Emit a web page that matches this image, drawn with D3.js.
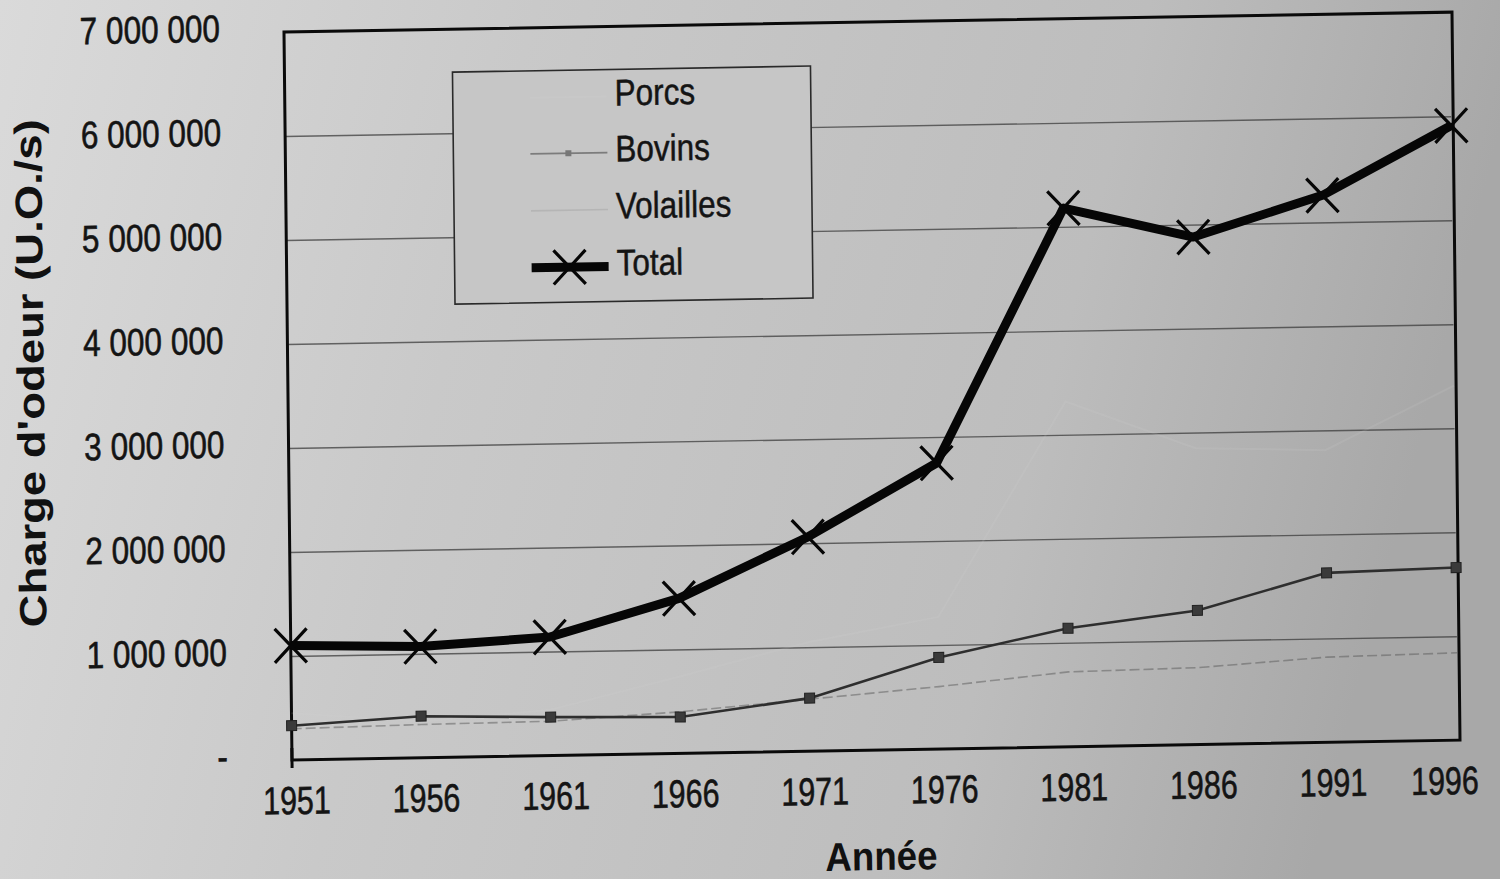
<!DOCTYPE html>
<html><head><meta charset="utf-8">
<script src="https://cdn.jsdelivr.net/npm/d3@7"></script>
<style>body{margin:0;background:#c8c8c8;overflow:hidden} svg{display:block}</style>
</head><body>
<svg id="chart" width="1500" height="879"></svg>
<script>
// ---- data ----
const years = [1951, 1956, 1961, 1966, 1971, 1976, 1981, 1986, 1991, 1996];
const porcs = [450000, 350000, 440000, 740000, 1050000, 1270000, 3320000, 2850000, 2810000, 3410000];
const bovins = [330000, 400000, 370000, 350000, 510000, 880000, 1140000, 1290000, 1630000, 1660000];
const volailles = [300000, 320000, 330000, 400000, 500000, 600000, 720000, 740000, 820000, 840000];
const total = [1100000, 1070000, 1140000, 1490000, 2060000, 2750000, 5180000, 4880000, 5260000, 5910000];
const seriesNames = ["Porcs", "Bovins", "Volailles", "Total"];
const yTickValues = [0, 1000000, 2000000, 3000000, 4000000, 5000000, 6000000, 7000000];
const yTickLabels = ["-", "1 000 000", "2 000 000", "3 000 000", "4 000 000", "5 000 000", "6 000 000", "7 000 000"];
const xTitle = "Année";
const yTitle = "Charge d'odeur (U.O./s)";

const FONT = "'Liberation Sans', Arial, Helvetica, sans-serif";
const svg = d3.select("#chart");
const W = 1166, H = 728;

// background (scanned grey page)
const defs = svg.append("defs");
const grad = defs.append("linearGradient").attr("id", "bg").attr("x1", "0").attr("x2", "1").attr("y1", "0").attr("y2", "0.15");
grad.append("stop").attr("offset", "0%").attr("stop-color", "#dadada");
grad.append("stop").attr("offset", "35%").attr("stop-color", "#c9c9c9");
grad.append("stop").attr("offset", "75%").attr("stop-color", "#bdbdbd");
grad.append("stop").attr("offset", "100%").attr("stop-color", "#a8a8a8");
svg.append("rect").attr("width", 1500).attr("height", 879).attr("fill", "url(#bg)");

// whole chart slightly skewed like the scan
const g = svg.append("g").attr("transform", "translate(292,760) matrix(1,-0.017,0.011,1,0,0)");

const x = d3.scaleLinear().domain([1951, 1996]).range([0, W]);
const y = d3.scaleLinear().domain([0, 7000000]).range([0, -H]);

// gridlines
const grid = g.append("g").call(d3.axisLeft(y).tickValues(yTickValues.slice(1, -1)).tickSize(-W).tickFormat(""));
grid.select(".domain").remove();
grid.selectAll("line").attr("stroke", "#3c3c3c").attr("stroke-width", 1.4).attr("opacity", 0.75);

// y axis labels
const yAx = g.append("g").attr("transform", "translate(-64,0)")
  .call(d3.axisLeft(y).tickValues(yTickValues).tickSize(0).tickPadding(0).tickFormat((d, i) => yTickLabels[i]));
yAx.select(".domain").remove();
yAx.selectAll("text").attr("font-family", FONT).attr("font-size", 38).attr("fill", "#141414")
  .attr("stroke", "#141414").attr("stroke-width", 0.6)
  .attr("dy", "0.32em").attr("y", -4).attr("data-sq", 0.83);

// x axis labels
const xAx = g.append("g").call(d3.axisBottom(x).tickValues(years).tickSize(0).tickFormat(d3.format("d")));
xAx.select(".domain").remove();
xAx.selectAll("text").attr("font-family", FONT).attr("font-size", 39).attr("fill", "#141414")
  .attr("stroke", "#141414").attr("stroke-width", 0.6)
  .attr("dy", 0).attr("y", 54).attr("x", (d) => d === 1996 ? -14 : 4).attr("data-sq", 0.78);

// plot border
g.append("rect").attr("x", 0).attr("y", -H).attr("width", W + 2).attr("height", H)
  .attr("fill", "none").attr("stroke", "#0a0a0a").attr("stroke-width", 3);
g.append("line").attr("x1", 0).attr("x2", 0).attr("y1", -12).attr("y2", 8).attr("stroke", "#0a0a0a").attr("stroke-width", 3);

// series
const line = d3.line().x((d, i) => x(years[i])).y(d => y(d));
// Porcs: almost invisible in the scan
g.append("path").datum(porcs).attr("d", line).attr("fill", "none")
  .attr("stroke", "#d6d6d6").attr("stroke-width", 2).attr("opacity", 0.14);
// Volailles: faint
g.append("path").datum(volailles).attr("d", line).attr("fill", "none")
  .attr("stroke", "#5a5a5a").attr("stroke-width", 1.6).attr("opacity", 0.5).attr("stroke-dasharray", "10 4");
// Bovins
g.append("path").datum(bovins).attr("d", line).attr("fill", "none")
  .attr("stroke", "#2e2e2e").attr("stroke-width", 2.6);
g.selectAll(".bov").data(bovins).join("rect").attr("class", "bov")
  .attr("x", (d, i) => x(years[i]) - 5).attr("y", d => y(d) - 5).attr("width", 10).attr("height", 10)
  .attr("fill", "#3a3a3a").attr("stroke", "#222").attr("stroke-width", 1);
// Total
g.append("path").datum(total).attr("d", line).attr("fill", "none")
  .attr("stroke", "#060606").attr("stroke-width", 9).attr("stroke-linejoin", "round");
const xMark = (sel, cx, cy) => {
  sel.append("path").attr("d", `M${cx - 16},${cy - 17}L${cx + 16},${cy + 17}M${cx - 16},${cy + 17}L${cx + 16},${cy - 17}`)
    .attr("stroke", "#060606").attr("stroke-width", 3.2).attr("fill", "none");
};
const tm = g.append("g");
total.forEach((d, i) => xMark(tm, x(years[i]), y(d)));

// legend
const lg = g.append("g");
lg.append("rect").attr("x", 168).attr("y", -685).attr("width", 358).attr("height", 232)
  .attr("fill", "#c6c6c6").attr("stroke", "#2a2a2a").attr("stroke-width", 1.6);
const rows = [-649, -593, -536, -479];
seriesNames.forEach((name, i) => {
  lg.append("text").attr("x", 330).attr("y", rows[i]).text(name)
    .attr("font-family", FONT).attr("font-size", 37).attr("fill", "#141414")
    .attr("stroke", "#141414").attr("stroke-width", 0.5).attr("data-sq", 0.85);
});
const sy = rows.map(r => r - 9);
lg.append("line").attr("x1", 245).attr("x2", 322).attr("y1", sy[0]).attr("y2", sy[0]).attr("stroke", "#d6d6d6").attr("stroke-width", 2).attr("opacity", 0.14);
lg.append("line").attr("x1", 245).attr("x2", 322).attr("y1", sy[1]).attr("y2", sy[1]).attr("stroke", "#6a6a6a").attr("stroke-width", 1.8).attr("opacity", 0.8);
lg.append("rect").attr("x", 280).attr("y", sy[1] - 3).attr("width", 6).attr("height", 6).attr("fill", "#777");
lg.append("line").attr("x1", 245).attr("x2", 322).attr("y1", sy[2]).attr("y2", sy[2]).attr("stroke", "#5a5a5a").attr("stroke-width", 1.6).attr("opacity", 0.15);
lg.append("line").attr("x1", 245).attr("x2", 322).attr("y1", sy[3]).attr("y2", sy[3]).attr("stroke", "#060606").attr("stroke-width", 9);
xMark(lg, 283, sy[3]);

// axis titles
g.append("text").attr("x", x(1971) + 70).attr("y", 120).attr("text-anchor", "middle").text(xTitle)
  .attr("font-family", FONT).attr("font-weight", "bold").attr("font-size", 40).attr("fill", "#111").attr("data-len", 112);
g.append("text").attr("transform", "translate(-244,-391) rotate(-90)").attr("text-anchor", "middle").text(yTitle)
  .attr("font-family", FONT).attr("font-weight", "bold").attr("font-size", 38).attr("fill", "#111").attr("data-len", 508);

// condense the scanned-looking text
svg.selectAll("text[data-sq]").each(function () {
  const t = d3.select(this);
  const n = this.getComputedTextLength();
  t.attr("textLength", n * (+t.attr("data-sq"))).attr("lengthAdjust", "spacingAndGlyphs");
});
svg.selectAll("text[data-len]").each(function () {
  const t = d3.select(this);
  t.attr("textLength", +t.attr("data-len")).attr("lengthAdjust", "spacingAndGlyphs");
});
</script>
</body></html>
